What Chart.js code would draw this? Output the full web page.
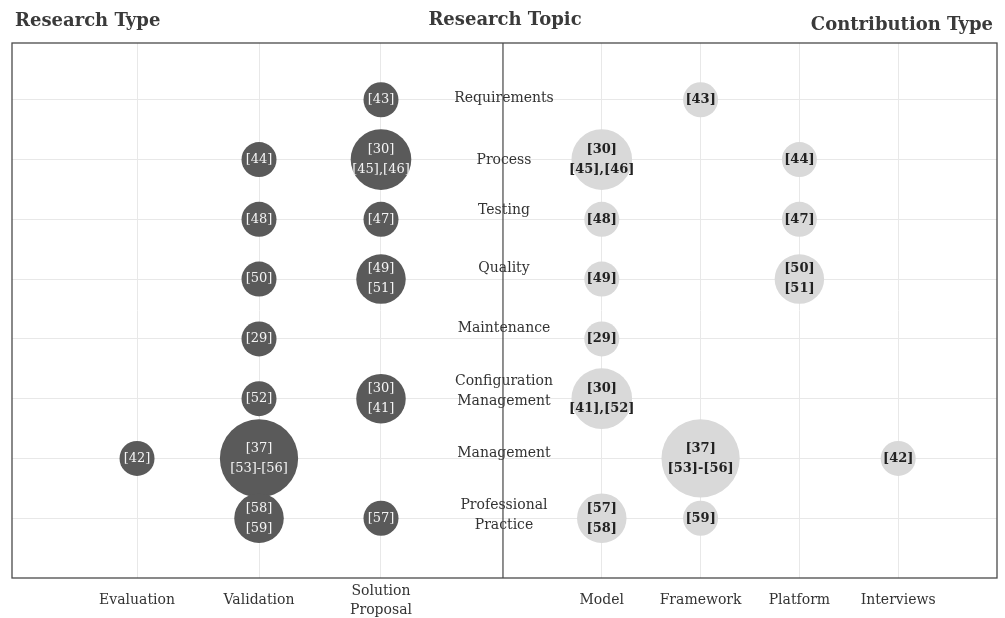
<!DOCTYPE html>
<html lang="en">
<head>
    <meta charset="UTF-8">
    <title>Research Type / Research Topic / Contribution Type</title>
    <script src="https://cdn.jsdelivr.net/npm/chart.js"></script>
    <style>
        body { margin: 0; background: #fff; }
        #wrap { width: 1005px; height: 618px; }
    </style>
</head>
<body>
    <div id="wrap"><canvas id="map"></canvas></div>

    <script>
        // Rows (research topics), top to bottom
        const topics = ['Requirements', 'Process', 'Testing', 'Quality', 'Maintenance',
            ['Configuration', 'Management'], 'Management', ['Professional', 'Practice']];

        // Columns
        const researchTypes = ['Evaluation', 'Validation', ['Solution', 'Proposal']];
        const contributionTypes = ['Model', 'Framework', 'Platform', 'Interviews'];

        // Left half: research type bubbles
        const researchTopic = [0, 1, 1, 2, 2, 3, 3, 4, 5, 5, 6, 6, 7, 7];
        const researchCol   = [2, 1, 2, 1, 2, 1, 2, 1, 1, 2, 0, 1, 1, 2];
        const researchCount = [1, 1, 3, 1, 1, 1, 2, 1, 1, 2, 1, 5, 2, 1];
        const researchRefs  = [
            ['[43]'], ['[44]'], ['[30]', '[45],[46]'], ['[48]'], ['[47]'], ['[50]'], ['[49]', '[51]'],
            ['[29]'], ['[52]'], ['[30]', '[41]'], ['[42]'], ['[37]', '[53]-[56]'], ['[58]', '[59]'], ['[57]']
        ];

        // Right half: contribution type bubbles
        const contribTopic = [0, 1, 1, 2, 2, 3, 3, 4, 5, 6, 6, 7, 7];
        const contribCol   = [1, 0, 2, 0, 2, 0, 2, 0, 0, 1, 3, 0, 1];
        const contribCount = [1, 3, 1, 1, 1, 1, 2, 1, 3, 5, 1, 2, 1];
        const contribRefs  = [
            ['[43]'], ['[30]', '[45],[46]'], ['[44]'], ['[48]'], ['[47]'], ['[49]'], ['[50]', '[51]'],
            ['[29]'], ['[30]', '[41],[52]'], ['[37]', '[53]-[56]'], ['[42]'], ['[57]', '[58]'], ['[59]']
        ];

        const FONT = "'DejaVu Serif', 'Liberation Serif', serif";
        const DIVIDER = 4;
        const leftX = i => i + 1;
        const rightX = i => DIVIDER + 0.81 * (i + 1);

        const tickValues = researchTypes.map((_, i) => leftX(i))
            .concat([DIVIDER], contributionTypes.map((_, i) => rightX(i)));
        const tickLabels = researchTypes.concat([''], contributionTypes);

        const researchPoints = researchCount.map((c, i) => ({ x: leftX(researchCol[i]), y: researchTopic[i] + 1, r: 17.5 * Math.sqrt(c) }));
        const contribPoints = contribCount.map((c, i) => ({ x: rightX(contribCol[i]), y: contribTopic[i] + 1, r: 17.5 * Math.sqrt(c) }));

        // small vertical nudges for the topic captions (they sit a bit above their row line)
        const topicNudge = [-1, 1, -9, -11, -11, -7, -5, -3];

        const overlay = {
            id: 'overlay',
            beforeDatasetsDraw(chart) {
                const { ctx, chartArea: a, scales: { x, y } } = chart;
                ctx.save();
                ctx.fillStyle = '#333';
                ctx.font = '14px ' + FONT;
                ctx.textAlign = 'center';
                ctx.textBaseline = 'middle';
                const cx = x.getPixelForValue(DIVIDER) + 1;
                topics.forEach((t, i) => {
                    const lines = Array.isArray(t) ? t : [t];
                    const cy = y.getPixelForValue(i + 1) + topicNudge[i];
                    lines.forEach((ln, k) => ctx.fillText(ln, cx, cy + (k - (lines.length - 1) / 2) * 20));
                });
                // divider
                ctx.strokeStyle = '#444';
                ctx.lineWidth = 1.2;
                ctx.beginPath();
                ctx.moveTo(x.getPixelForValue(DIVIDER), a.top);
                ctx.lineTo(x.getPixelForValue(DIVIDER), a.bottom);
                ctx.stroke();
                // frame
                ctx.strokeStyle = '#4a4a4a';
                ctx.lineWidth = 1.3;
                ctx.strokeRect(a.left, a.top, a.right - a.left, a.bottom - a.top);
                ctx.restore();
            },
            afterDatasetsDraw(chart) {
                const { ctx } = chart;
                ctx.save();
                ctx.textAlign = 'center';
                ctx.textBaseline = 'middle';
                [[researchRefs, '#f4f4f4', '13px '], [contribRefs, '#222', 'bold 13px ']].forEach(([refs, col, f], d) => {
                    ctx.fillStyle = col;
                    ctx.font = f + FONT;
                    chart.getDatasetMeta(d).data.forEach((el, i) => {
                        const lines = refs[i];
                        lines.forEach((ln, k) => ctx.fillText(ln, el.x, el.y + (k - (lines.length - 1) / 2) * 20));
                    });
                });
                ctx.restore();
            },
            afterDraw(chart) {
                const { ctx, width } = chart;
                ctx.save();
                ctx.fillStyle = '#3a3a3a';
                ctx.font = 'bold 18px ' + FONT;
                ctx.textBaseline = 'middle';
                ctx.textAlign = 'left';
                ctx.fillText('Research Type', 15, 21);
                ctx.textAlign = 'center';
                ctx.fillText('Research Topic', 505, 20);
                ctx.textAlign = 'right';
                ctx.fillText('Contribution Type', width - 12, 25);
                ctx.restore();
            }
        };

        new Chart(document.getElementById('map'), {
            type: 'bubble',
            data: {
                datasets: [
                    { label: 'Research Type', data: researchPoints, backgroundColor: '#5a5a5a', borderWidth: 0, hoverBorderWidth: 0 },
                    { label: 'Contribution Type', data: contribPoints, backgroundColor: '#d9d9d9', borderWidth: 0, hoverBorderWidth: 0 }
                ]
            },
            options: {
                responsive: true,
                maintainAspectRatio: false,
                animation: false,
                layout: { autoPadding: false, padding: { top: 43, left: 12, right: 8, bottom: 0 } },
                plugins: { legend: { display: false }, tooltip: { enabled: false } },
                scales: {
                    x: {
                        type: 'linear',
                        min: -0.025,
                        max: 8.05,
                        afterBuildTicks: s => { s.ticks = tickValues.map(v => ({ value: v })); },
                        afterFit: s => { s.height = 40; },
                        grid: {
                            color: c => (c.tick && c.tick.value === DIVIDER) ? 'rgba(0,0,0,0)' : '#e8e8e8',
                            drawTicks: false
                        },
                        border: { display: false },
                        ticks: {
                            autoSkip: false,
                            maxRotation: 0,
                            padding: 13,
                            crossAlign: 'center',
                            color: '#333',
                            font: { family: FONT, size: 14, lineHeight: 1.4 },
                            callback: (v, i) => tickLabels[i]
                        }
                    },
                    y: {
                        type: 'linear',
                        reverse: true,
                        min: 0.05,
                        max: 9,
                        afterBuildTicks: s => { s.ticks = topics.map((_, i) => ({ value: i + 1 })); },
                        afterFit: s => { s.width = 0; },
                        grid: { color: '#e8e8e8', drawTicks: false },
                        border: { display: false },
                        ticks: { display: false }
                    }
                }
            },
            plugins: [overlay]
        });
    </script>
</body>
</html>
